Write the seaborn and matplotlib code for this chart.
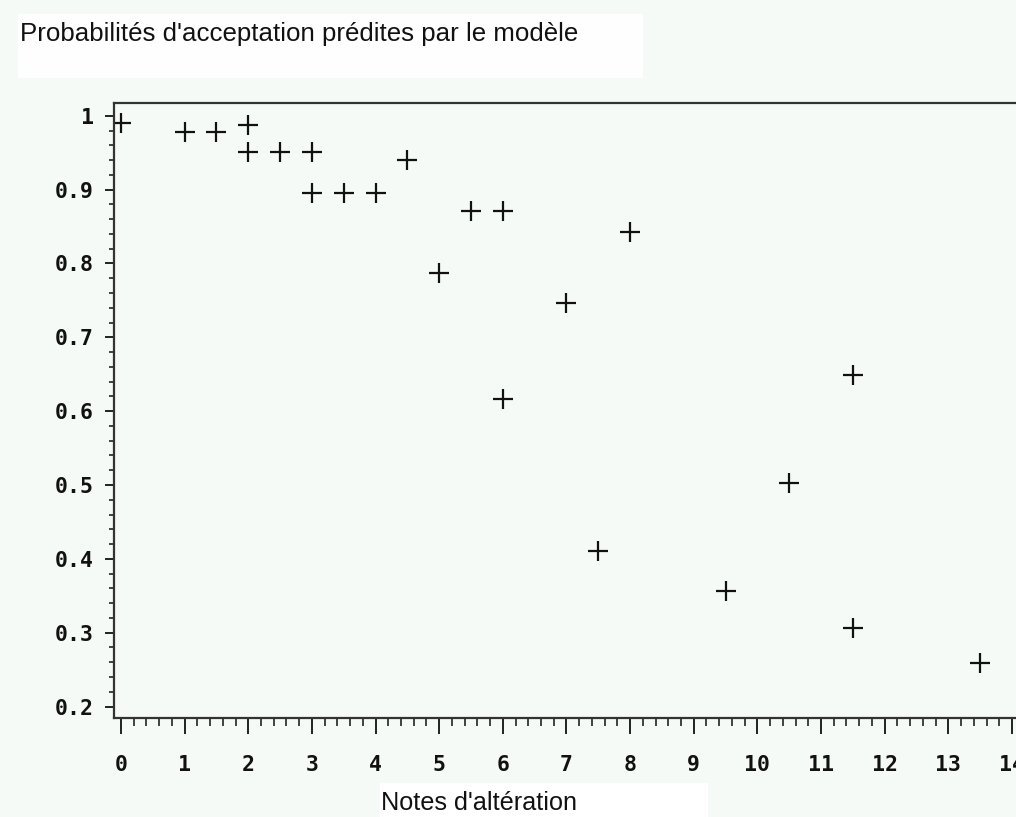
import matplotlib
matplotlib.use("Agg")
import matplotlib.pyplot as plt
from matplotlib.patches import Rectangle
from matplotlib.ticker import MultipleLocator, FixedLocator
import seaborn as sns
import pandas as pd

# Predicted acceptance probability for each alteration score
notes = [0, 1, 1.5, 2, 2, 2.5, 3, 3, 3.5, 4, 4.5, 5, 5.5, 6, 6, 7, 7.5, 8,
         9.5, 10.5, 11.5, 11.5, 13.5]
probas = [0.990, 0.978, 0.978, 0.988, 0.951, 0.951, 0.951, 0.895, 0.895,
          0.895, 0.940, 0.787, 0.871, 0.871, 0.616, 0.746, 0.411, 0.843,
          0.357, 0.503, 0.649, 0.306, 0.259]

x_ticks = list(range(0, 15))
y_ticks = [0.2, 0.3, 0.4, 0.5, 0.6, 0.7, 0.8, 0.9, 1.0]
y_tick_labels = ["0.2", "0.3", "0.4", "0.5", "0.6", "0.7", "0.8", "0.9", "1"]

titre = "Probabilités d'acceptation prédites par le modèle"
label_x = "Notes d'altération"

df = pd.DataFrame({"note": notes, "proba": probas})

sns.set_style("white")
plt.rcParams["font.family"] = ["Liberation Sans", "DejaVu Sans"]

bg = "#F6FAF7"
W, H = 1016, 817
fig = plt.figure(figsize=(W / 100, H / 100), dpi=100, facecolor=bg)

# plot frame in pixel units: left 114, top 103, bottom 718, runs past right edge
left, top, bottom, right = 114, 103, 718, 1040
ax = fig.add_axes([left / W, (H - bottom) / H, (right - left) / W, (bottom - top) / H])
ax.set_facecolor(bg)

sns.scatterplot(data=df, x="note", y="proba", ax=ax, marker="+", s=190,
                color="#111111", linewidth=1.6, legend=False)

ax.set_xlim(-0.11, (right - 121) / 63.64)
ax.set_ylim(0.1845, 1.0173)

ax.set_xticks(x_ticks)
ax.set_xticklabels([str(v) for v in x_ticks])
ax.xaxis.set_minor_locator(MultipleLocator(0.2))
ax.set_yticks(y_ticks)
ax.set_yticklabels(y_tick_labels)
ax.yaxis.set_minor_locator(MultipleLocator(0.02))

for lab in ax.get_xticklabels() + ax.get_yticklabels():
    lab.set_fontfamily("DejaVu Sans Mono")
    lab.set_fontweight("bold")
    lab.set_fontsize(15.5)

ax.tick_params(axis="x", which="major", direction="out", length=11.5, width=1.4,
               color="#222222", pad=15, labelcolor="#111111")
ax.tick_params(axis="x", which="minor", direction="out", length=5.8, width=1.2,
               color="#222222")
ax.tick_params(axis="y", which="major", direction="out", length=6.5, width=1.4,
               color="#222222", pad=8, labelcolor="#111111")
ax.tick_params(axis="y", which="minor", direction="out", length=3.6, width=1.2,
               color="#222222")
ax.tick_params(bottom=True, left=True, which="both")

for side in ["left", "bottom", "top", "right"]:
    ax.spines[side].set_visible(True)
    ax.spines[side].set_color("#333333")
    ax.spines[side].set_linewidth(1.6)

ax.set_xlabel("")
ax.set_ylabel("")

# title panel and axis-name panel
fig.patches.append(Rectangle((18 / W, 1 - 78 / H), (643 - 18) / W, (78 - 14) / H,
                             transform=fig.transFigure, facecolor="#FDFEFD",
                             edgecolor="none", zorder=0))
fig.patches.append(Rectangle((380 / W, 0), (708 - 380) / W, (817 - 783) / H,
                             transform=fig.transFigure, facecolor="#FFFFFF",
                             edgecolor="none", zorder=0))

fig.text(20 / W, 1 - 41 / H, titre, ha="left", va="baseline", fontsize=18.6,
         color="#111111")
fig.text(381 / W, 1 - 810 / H, label_x, ha="left", va="baseline", fontsize=18.2,
         color="#111111")

fig.savefig("out.png", dpi=100, facecolor=bg)
